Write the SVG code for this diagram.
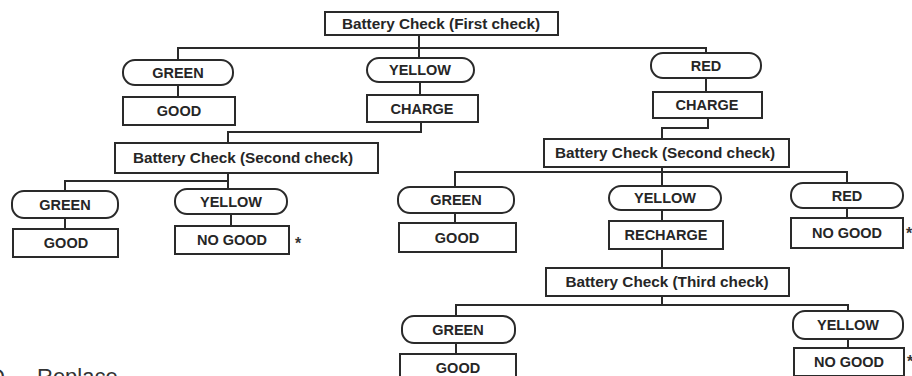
<svg xmlns="http://www.w3.org/2000/svg" width="912" height="376" viewBox="0 0 912 376">
<style>
  .box{fill:#fff;stroke:#2a2a2a;stroke-width:2}
  .pill{fill:#fff;stroke:#2a2a2a;stroke-width:2}
  .lbl{font-family:"Liberation Sans",Arial,sans-serif;font-weight:bold;font-size:14.5px;fill:#262626;text-anchor:middle}
  .chk{font-family:"Liberation Sans",Arial,sans-serif;font-weight:bold;font-size:15.3px;fill:#262626;text-anchor:middle}
  .ast{font-family:"Liberation Sans",Arial,sans-serif;font-weight:bold;font-size:16px;fill:#333}
  .note{font-family:"Liberation Sans",Arial,sans-serif;font-size:22px;fill:#333}
  .con{fill:none;stroke:#2a2a2a;stroke-width:2}
</style>
<g id="connectors">
  <path class="con" d="M419,35 V58 M178,60 V48 H706 V53"/>
  <path class="con" d="M178,85 V97 M420,82 V95 M706,78 V92"/>
  <path class="con" d="M421,122 V132 H228 V143"/>
  <path class="con" d="M708,118 V128 H662 V139"/>
  <path class="con" d="M228,173 V189 M65,191 V181 H228"/>
  <path class="con" d="M65,218 V229 M231,214 V226"/>
  <path class="con" d="M662,167 V186 M455,187 V172 H847 V183"/>
  <path class="con" d="M455,213 V223 M847,208 V218"/>
  <path class="con" d="M662,210 V221 M662,249 V268"/>
  <path class="con" d="M662,296 V305 M456,316 V305 H848 V311"/>
  <path class="con" d="M456,343 V354 M848,339 V348"/>
</g>
<g id="first-check"><rect class="box" x="325" y="12" width="233" height="23"/><text class="chk" x="441" y="29">Battery Check (First check)</text></g>
<g id="green-1"><rect class="pill" x="123" y="60" width="110" height="25" rx="12"/><text class="lbl" x="178" y="78">GREEN</text></g>
<g id="good-1"><rect class="box" x="123" y="97" width="112" height="28"/><text class="lbl" x="179" y="116">GOOD</text></g>
<g id="yellow-1"><rect class="pill" x="367" y="58" width="107" height="24" rx="12"/><text class="lbl" x="420" y="75">YELLOW</text></g>
<g id="charge-1"><rect class="box" x="367" y="95" width="111" height="27"/><text class="lbl" x="422" y="114">CHARGE</text></g>
<g id="red-1"><rect class="pill" x="651" y="53" width="110" height="25" rx="12"/><text class="lbl" x="706" y="71">RED</text></g>
<g id="charge-2"><rect class="box" x="653" y="92" width="109" height="26"/><text class="lbl" x="707" y="110">CHARGE</text></g>
<g id="second-check-a"><rect class="box" x="115" y="143" width="263" height="30"/><text class="chk" x="243" y="163">Battery Check (Second check)</text></g>
<g id="green-2a"><rect class="pill" x="12" y="191" width="106" height="27" rx="12"/><text class="lbl" x="65" y="210">GREEN</text></g>
<g id="good-2a"><rect class="box" x="13" y="229" width="105" height="28"/><text class="lbl" x="66" y="248">GOOD</text></g>
<g id="yellow-2a"><rect class="pill" x="175" y="189" width="112" height="25" rx="12"/><text class="lbl" x="231" y="207">YELLOW</text></g>
<g id="nogood-2a"><rect class="box" x="175" y="226" width="114" height="28"/><text class="lbl" x="232" y="245">NO GOOD</text><text class="ast" x="295" y="249">*</text></g>
<g id="second-check-b"><rect class="box" x="544" y="139" width="245" height="28"/><text class="chk" x="665" y="158">Battery Check (Second check)</text></g>
<g id="green-2b"><rect class="pill" x="398" y="187" width="116" height="26" rx="12"/><text class="lbl" x="456" y="205">GREEN</text></g>
<g id="good-2b"><rect class="box" x="399" y="223" width="117" height="29"/><text class="lbl" x="457" y="243">GOOD</text></g>
<g id="yellow-2b"><rect class="pill" x="609" y="186" width="112" height="24" rx="12"/><text class="lbl" x="665" y="203">YELLOW</text></g>
<g id="recharge"><rect class="box" x="609" y="221" width="114" height="28"/><text class="lbl" x="666" y="240">RECHARGE</text></g>
<g id="red-2b"><rect class="pill" x="791" y="183" width="112" height="25" rx="12"/><text class="lbl" x="847" y="201">RED</text></g>
<g id="nogood-2b"><rect class="box" x="791" y="218" width="112" height="30"/><text class="lbl" x="847" y="238">NO GOOD</text><text class="ast" x="906" y="239">*</text></g>
<g id="third-check"><rect class="box" x="546" y="268" width="243" height="28"/><text class="chk" x="667" y="287">Battery Check (Third check)</text></g>
<g id="green-3"><rect class="pill" x="402" y="316" width="113" height="27" rx="12"/><text class="lbl" x="458" y="335">GREEN</text></g>
<g id="good-3"><rect class="box" x="400" y="354" width="116" height="28"/><text class="lbl" x="458" y="373">GOOD</text></g>
<g id="yellow-3"><rect class="pill" x="793" y="311" width="110" height="28" rx="12"/><text class="lbl" x="848" y="330">YELLOW</text></g>
<g id="nogood-3"><rect class="box" x="794" y="348" width="110" height="28"/><text class="lbl" x="849" y="367">NO GOOD</text><text class="ast" x="907" y="367">*</text></g>
<text class="note" x="-11" y="384">D - <tspan x="37">Replace</tspan></text>
</svg>
